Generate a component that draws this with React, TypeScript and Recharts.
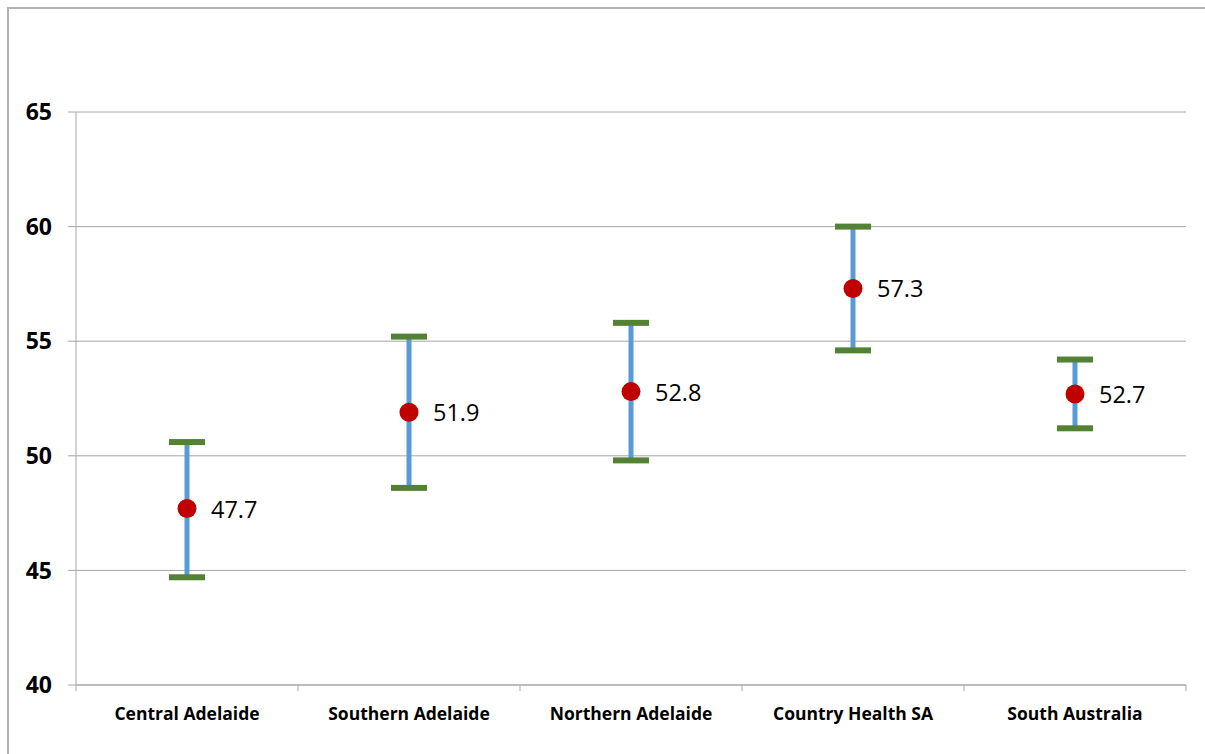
import React from 'react'
import { ComposedChart, Scatter, ErrorBar, XAxis, YAxis, CartesianGrid } from 'recharts'

const categories = ['Central Adelaide', 'Southern Adelaide', 'Northern Adelaide', 'Country Health SA', 'South Australia']
const means = [47.7, 51.9, 52.8, 57.3, 52.7]
const lower = [44.7, 48.6, 49.8, 54.6, 51.2]
const upper = [50.6, 55.2, 55.8, 60.0, 54.2]
const yTicks = [40, 45, 50, 55, 60, 65]
// boundaries between categories get a tick mark, half positions get the name
const xTicks = [0, 0.5, 1, 1.5, 2, 2.5, 3, 3.5, 4, 4.5, 5]

const rows = categories.map((name, i) => ({
  name,
  x: i + 0.5,
  mean: means[i],
  low: lower[i],
  high: upper[i],
  err: [means[i] - lower[i], upper[i] - means[i]],
}))

const GRID = '#a6a6a6'
const FONT = '"Open Sans", "Noto Sans", sans-serif'

const XTick = (props: any) => {
  const { x, y, payload } = props
  const v = payload.value as number
  if (Number.isInteger(v)) {
    return <line x1={x} y1={y} x2={x} y2={y + 6} stroke={GRID} />
  }
  return (
    <text x={x} y={y + 28} textAnchor="middle" dominantBaseline="central"
      fontFamily={FONT} fontSize={17.5} fontWeight={700} fill="#000">
      {categories[Math.floor(v)]}
    </text>
  )
}

const Cap = (props: any) => {
  const { cx, cy } = props
  if (cx == null || cy == null) return <g />
  return <rect x={cx - 18} y={cy - 3} width={36} height={6} fill="#548235" />
}

const Dot = (props: any) => {
  const { cx, cy, payload } = props
  if (cx == null || cy == null) return <g />
  return (
    <g>
      <circle cx={cx} cy={cy} r={9.5} fill="#c00000" />
      <text x={cx + 24} y={cy} dominantBaseline="central" fontFamily={FONT} fontSize={23.5} fill="#000">
        {payload.mean.toFixed(1)}
      </text>
    </g>
  )
}

export default function App() {
  return (
    <div style={{ position: 'absolute', left: 0, top: 0, width: 1205, height: 754, overflow: 'hidden', background: '#fff' }}>
      <div
        style={{
          position: 'absolute', left: 7, top: 7, width: 1300, height: 800,
          borderLeft: '2px solid #b4b4b4', borderTop: '2px solid #b4b4b4',
        }}
      />
      <div style={{ position: 'absolute', left: 0, top: 0 }}>
        <ComposedChart width={1205} height={754} data={rows} margin={{ top: 112, right: 19, left: 0, bottom: 29 }}>
          <CartesianGrid vertical={false} stroke={GRID} />
          <XAxis
            type="number"
            dataKey="x"
            domain={[0, 5]}
            ticks={xTicks}
            interval={0}
            tick={<XTick />}
            tickLine={false}
            tickSize={0}
            tickMargin={0}
            height={40}
            axisLine={{ stroke: GRID }}
          />
          <YAxis
            type="number"
            domain={[40, 65]}
            ticks={yTicks}
            width={76}
            tickSize={8}
            tickMargin={16}
            axisLine={{ stroke: GRID }}
            tickLine={{ stroke: GRID }}
            tick={{ fontFamily: FONT, fontSize: 23, fontWeight: 700, fill: '#000' }}
          />
          <Scatter name="range" dataKey="mean" shape={() => <g />} isAnimationActive={false}>
            <ErrorBar dataKey="err" direction="y" width={0} stroke="#5b9bd5" strokeWidth={5} isAnimationActive={false} />
          </Scatter>
          <Scatter name="low" dataKey="low" shape={Cap} isAnimationActive={false} />
          <Scatter name="high" dataKey="high" shape={Cap} isAnimationActive={false} />
          <Scatter name="mean" dataKey="mean" shape={Dot} isAnimationActive={false} />
        </ComposedChart>
      </div>
    </div>
  )
}
